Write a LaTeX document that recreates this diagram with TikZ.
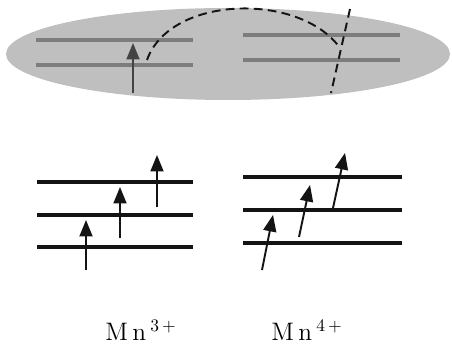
\documentclass[tikz,border=0pt]{standalone}
\usetikzlibrary{arrows.meta}
\definecolor{shell}{RGB}{191,191,191}
\definecolor{slate}{RGB}{125,125,125}
\definecolor{ink}{RGB}{20,20,20}
\tikzset{
  >={Triangle[length=3.3mm,width=2.6mm]},
  level/.style={draw=#1,line width=2.3pt},
  level/.default=ink,
  spin/.style={->,draw=#1,fill=#1,line width=1.1pt},
  spin/.default=ink,
  hop/.style={dashed,draw=ink,line width=1.1pt,dash pattern=on 5pt off 3pt},
  ion/.style={font=\Large,inner sep=0pt},
}
\begin{document}
\begin{tikzpicture}[x=0.02cm,y=-0.02cm]
  \useasboundingbox (0,0) rectangle (452,351);
  % double exchange pair
  \fill[shell] (228,54) ellipse (222 and 46);
  \foreach \y in {40,65} \draw[level=slate] (36,\y) -- (193,\y);
  \foreach \y in {35,60} \draw[level=slate] (243,\y) -- (400,\y);
  \coordinate (up0) at (133,93); \coordinate (tip0) at (133,43);
  \draw[spin=ink!80] (up0) -- (tip0);
  \coordinate (jumpA) at (147,60); \coordinate (jumpB) at (340,48);
  \coordinate (cutA) at (350,9); \coordinate (cutB) at (331,93);
  \draw[hop] (jumpA) .. controls (170,-5) and (300,-8) .. (jumpB);
  \draw[hop] (cutA) -- (cutB);
  % Mn3+
  \foreach \y in {182,215,247} \draw[level] (37,\y) -- (193,\y);
  \foreach \i/\x/\a/\b in {1/86/270/220,2/120/238/187,3/157/207/155} {
    \coordinate (tail\i) at (\x,\a); \coordinate (head\i) at (\x,\b);
    \draw[spin] (tail\i) -- (head\i);
  }
  % Mn4+
  \foreach \y in {177,210,243} \draw[level] (243,\y) -- (402,\y);
  \foreach \i/\x/\a/\u/\b in {4/262/270/273/215,5/299/237/310/185,6/333/208/345/153} {
    \coordinate (tail\i) at (\x,\a); \coordinate (head\i) at (\u,\b);
    \draw[spin] (tail\i) -- (head\i);
  }
  \node[ion] (mn3) at (141,330) {M\,n\,\textsuperscript{3\,+}};
  \node[ion] (mn4) at (307,330) {M\,n\,\textsuperscript{4\,+}};
\end{tikzpicture}
\end{document}
